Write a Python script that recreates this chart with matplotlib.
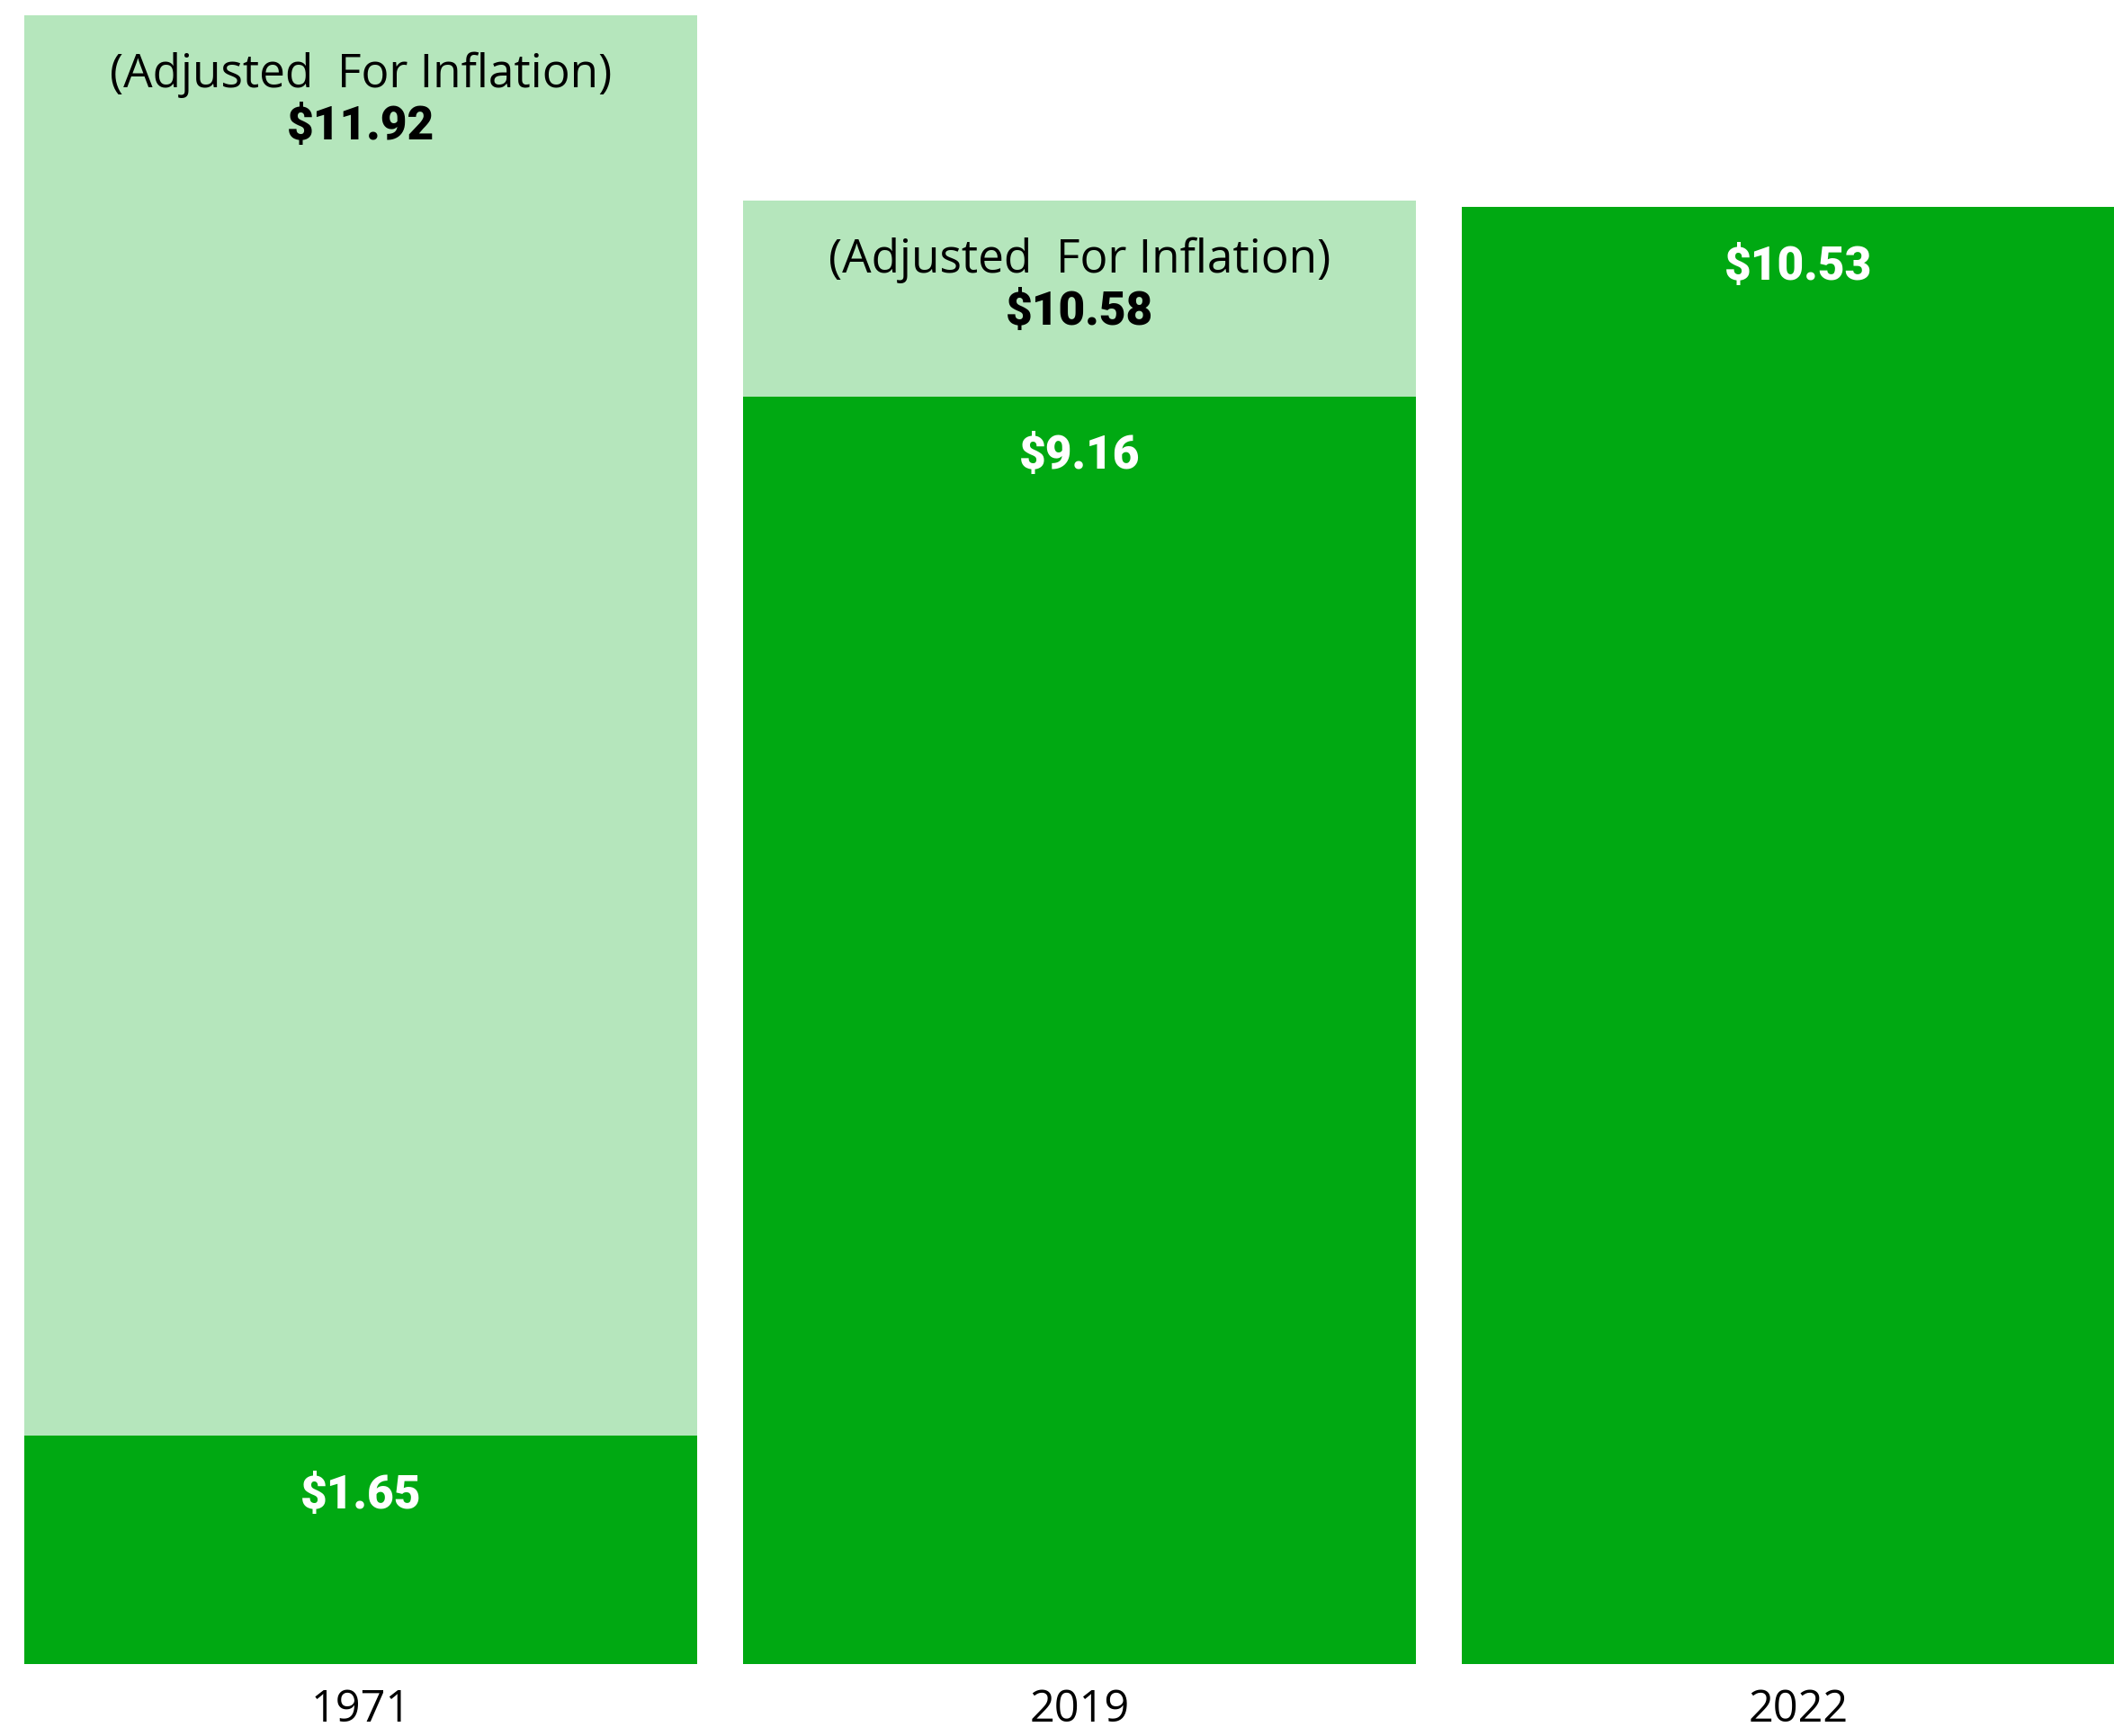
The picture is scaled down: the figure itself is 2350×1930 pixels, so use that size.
import matplotlib.pyplot as plt

# Data
years = ['1971', '2019', '2022']
wage = [1.65, 9.16, 10.53]
adjusted = [11.92, 10.58, None]

light_green = '#b5e6bc'
dark_green = '#00a912'

fig = plt.figure(figsize=(23.5, 19.31), dpi=100)
ax = fig.add_axes([0, 0.0414, 1, 0.9586])

x = range(len(years))
w = 0.936

# Inflation-adjusted bars behind, nominal bars on top
for i, adj in enumerate(adjusted):
    if adj is not None:
        ax.bar(i, adj, width=w, color=light_green, zorder=1)
ax.bar(x, wage, width=w, color=dark_green, zorder=2)

# Labels
for i, adj in enumerate(adjusted):
    if adj is not None:
        ax.annotate('(Adjusted  For Inflation)', (i, adj), xytext=(0, -47),
                    textcoords='offset points', ha='center', va='center',
                    fontsize=37, family='Open Sans', color='black', zorder=3)
        ax.annotate(f'${adj:.2f}', (i, adj), xytext=(0, -89),
                    textcoords='offset points', ha='center', va='center',
                    fontsize=37, family='Roboto', fontweight='black',
                    color='black', zorder=3)
for i, v in enumerate(wage):
    ax.annotate(f'${v:.2f}', (i, v), xytext=(0, -47),
                textcoords='offset points', ha='center', va='center',
                fontsize=37, family='Roboto', fontweight='black',
                color='white', zorder=3)

ax.set_xlim(-0.502, 2.439)
ax.set_ylim(0, 12.035)
ax.set_xticks(list(x))
ax.set_xticklabels(years, fontsize=35, family='Open Sans')
ax.tick_params(axis='x', length=0, pad=18)
ax.set_yticks([])
for s in ax.spines.values():
    s.set_visible(False)

plt.savefig('out.png', dpi=100)
